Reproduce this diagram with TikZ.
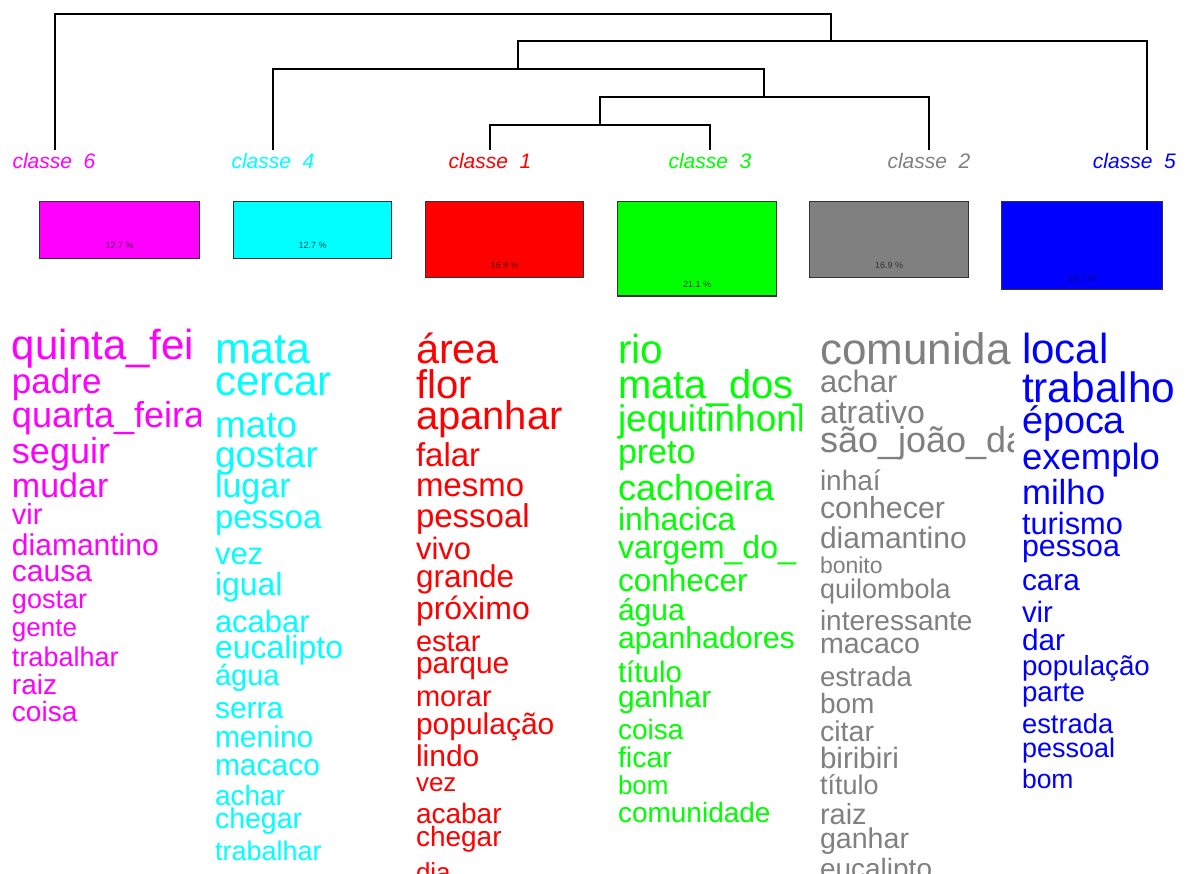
\documentclass[tikz,border=0pt]{standalone}
\usepackage{fontspec}
\setmainfont{Liberation Sans}
\usepackage{graphicx}
\newcommand{\fs}[1]{\fontsize{#1}{#1}\selectfont}
\definecolor{cmag}{RGB}{255,0,255}
\definecolor{ccyan}{RGB}{0,255,255}
\definecolor{cred}{RGB}{255,0,0}
\definecolor{cgreen}{RGB}{0,255,0}
\definecolor{cgray}{RGB}{128,128,128}
\definecolor{cblue}{RGB}{0,0,255}
\tikzset{
  word/.style={anchor=base west, inner sep=0pt, outer sep=0pt},
  lab/.style={font=\fs{21}\itshape, inner sep=0pt, anchor=base},
  box/.style={draw=black!80, line width=1.2pt, anchor=north west, inner sep=0pt},
  pct/.style={font=\fs{9}, inner sep=0pt},
  tree/.style={line width=1.5pt, black},
}
\begin{document}
\begin{tikzpicture}[x=1pt, y=-1pt]
\fill[white] (0,0) rectangle (1190,873);
\useasboundingbox (0,0) rectangle (1190,873);

% class labels
\node[lab, text=cmag]   (c6) at (54,168)  {classe\ \ 6};
\node[lab, text=ccyan]  (c4) at (273,168) {classe\ \ 4};
\node[lab, text=cred]   (c1) at (490,168) {classe\ \ 1};
\node[lab, text=cgreen] (c3) at (710,168) {classe\ \ 3};
\node[lab, text=cgray]  (c2) at (929,168) {classe\ \ 2};
\node[lab, text=cblue, anchor=base east] (c5) at (1176,168) {classe\ \ 5};

% dendrogram
\coordinate (l6) at (55,150);
\coordinate (l4) at (273,150);
\coordinate (l1) at (490,150);
\coordinate (l3) at (710,150);
\coordinate (l2) at (929,150);
\coordinate (l5) at (1147,150);
\coordinate (m13) at (600,125);
\coordinate (m132) at (764,97);
\coordinate (m4) at (518,69);
\coordinate (m5) at (831,41);
\coordinate (m6) at (443,14);
\draw[tree] (l1) |- (m13) -| (l3);
\draw[tree] (m13) |- (m132) -| (l2);
\draw[tree] (l4) |- (m4) -| (m132);
\draw[tree] (m4) |- (m5) -| (l5);
\draw[tree] (l6) |- (m6) -| (m5);

% boxes
\node[box, fill=cmag,   minimum width=160, minimum height=56.8] (b6) at (39,201) {};
\node[box, fill=ccyan,  minimum width=158, minimum height=56.8] (b4) at (233,201) {};
\node[box, fill=cred,   minimum width=158, minimum height=75.5] (b1) at (425,201) {};
\node[box, fill=cgreen, minimum width=159, minimum height=94.3] (b3) at (617,201) {};
\node[box, fill=cgray,  minimum width=159, minimum height=75.5] (b2) at (809,201) {};
\node[box, fill=cblue,  minimum width=161, minimum height=88.0] (b5) at (1001,201) {};
\node[pct, text=cmag!35!black]   (p6) at ([yshift=14]b6.south) {12.7 \%};
\node[pct, text=ccyan!30!black]  (p4) at ([yshift=14]b4.south) {12.7 \%};
\node[pct, text=cred!35!black]   (p1) at ([yshift=12]b1.south) {16.9 \%};
\node[pct, text=cgreen!25!black] (p3) at ([yshift=12]b3.south) {21.1 \%};
\node[pct, text=black!80]        (p2) at ([yshift=12]b2.south) {16.9 \%};
\node[pct, text=cblue!45!black]  (p5) at ([yshift=12]b5.south) {19.7 \%};

% class 6 words
\begin{scope}
\clip (5,300) rectangle (200,880);
\foreach \s/\y/\t [count=\i] in {42/359/quinta\_fei, 35/393/padre, 36/427/quarta\_feira,
  36/463/seguir, 34/497/mudar, 29/524/vir, 30/555/diamantino, 30/581/causa,
  27/608/gostar, 26/636/gente, 27/666/trabalhar, 28/694/raiz, 28/721/coisa}
  {\node[word, font=\fs{\s}, text=cmag] (m\i) at (12,\y) {\t};}
\end{scope}

% class 4 words
\foreach \s/\y/\t [count=\i] in {43/363/mata, 42/395/cercar, 37/437/mato,
  37/467/gostar, 34/497/lugar, 33/528/pessoa, 31/564/vez, 32/595/igual,
  31/632/acabar, 32/658/eucalipto, 29/685/água, 30/718/serra, 30/747/menino,
  30/775/macaco, 28/805/achar, 28.5/828/chegar, 27/860/trabalhar}
  {\node[word, font=\fs{\s}, text=ccyan] (q\i) at (215,\y) {\t};}

% class 1 words
\foreach \s/\y/\t [count=\i] in {41.5/363/área, 40/398/flor, 40/429/apanhar,
  33/466/falar, 33/496/mesmo, 33/527/pessoal, 31/559/vivo, 31.5/587/grande,
  32/619/próximo, 29/651/estar, 30/673/parque, 29/706/morar, 30/734/população,
  30/766/lindo, 26/791/vez, 28/823/acabar, 28/846/chegar, 26/881/dia}
  {\node[word, font=\fs{\s}, text=cred] (r\i) at (416,\y) {\t};}

% class 3 words
\begin{scope}
\clip (610,300) rectangle (801,880);
\foreach \s/\y/\t [count=\i] in {40.5/363/rio, 40/398/mata\_dos\_, 37/431/jequitinhonh,
  34/463/preto, 36/500/cachoeira, 32/530/inhacica, 32/558/vargem\_do\_,
  31.5/591/conhecer, 30/620/água, 30.3/648/apanhadores, 29.5/682/título,
  30/707/ganhar, 28/739/coisa, 28.5/767/ficar, 26/794/bom, 28/822/comunidade}
  {\node[word, font=\fs{\s}, text=cgreen] (g\i) at (618,\y) {\t};}
\end{scope}

% class 2 words
\begin{scope}
\clip (810,300) rectangle (1013,880);
\foreach \s/\y/\t [count=\i] in {44/364/comunida, 31/392/achar, 32/423/atrativo,
  36/452/são\_joão\_da, 28/490/inhaí, 30.4/518/conhecer, 30/548/diamantino,
  23/573/bonito, 27/598/quilombola, 28/630/interessante, 28.6/653/macaco,
  27.6/686/estrada, 28/713/bom, 28.6/741/citar, 29.6/768/biribiri,
  27/794/título, 29/824/raiz, 28.6/848/ganhar, 28/878/eucalipto}
  {\node[word, font=\fs{\s}, text=cgray] (h\i) at (820,\y) {\t};}
\end{scope}

% class 5 words
\foreach \s/\y/\t [count=\i] in {42/363/local, 42.4/402/trabalho, 37.8/433/época,
  36.5/469/exemplo, 34.8/504/milho, 30.8/534/turismo, 30.4/556/pessoa,
  29.8/590/cara, 29.4/622/vir, 29.8/650/dar, 27.7/675/população, 27.7/701/parte,
  27.4/733/estrada, 27/757/pessoal, 26.5/788/bom}
  {\node[word, font=\fs{\s}, text=cblue] (k\i) at (1022,\y) {\t};}
\end{tikzpicture}
\end{document}
